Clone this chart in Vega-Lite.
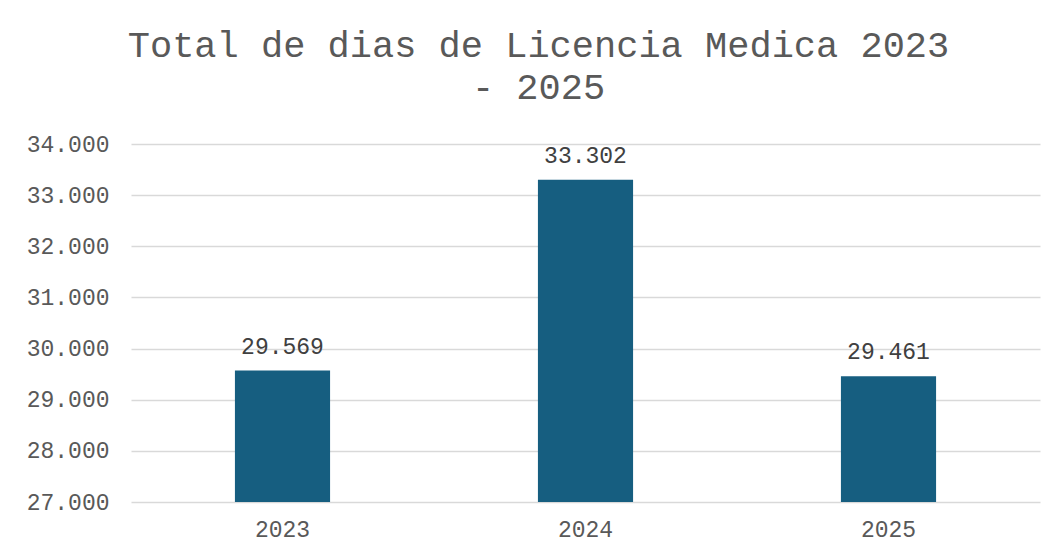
{
  "$schema": "https://vega.github.io/schema/vega-lite/v6.json",
  "autosize": {"type": "none"},
  "padding": {"left": 131, "top": 144, "right": 17, "bottom": 54},
  "width": 909,
  "height": 358,
  "background": "white",
  "config": {
    "locale": {"number": {"decimal": ",", "thousands": ".", "grouping": [3], "currency": ["$", ""]}},
    "view": {"stroke": null},
    "font": "Liberation Mono"
  },
  "title": {
    "text": ["Total de dias de Licencia Medica 2023", "- 2025"],
    "font": "Liberation Mono",
    "fontSize": 37,
    "fontWeight": "normal",
    "color": "#595959",
    "lineHeight": 42,
    "anchor": "middle",
    "dx": -47,
    "baseline": "alphabetic",
    "offset": -3
  },
  "data": {
    "values": [
      {"year": "2023", "dias": 29569},
      {"year": "2024", "dias": 33302},
      {"year": "2025", "dias": 29461}
    ]
  },
  "encoding": {
    "x": {
      "field": "year",
      "type": "nominal",
      "sort": null,
      "scale": {"paddingInner": 0.686, "paddingOuter": 0.343},
      "axis": {
        "title": null,
        "labelAngle": 0,
        "labelFont": "Liberation Mono",
        "labelFontSize": 23,
        "labelColor": "#595959",
        "labelPadding": 16,
        "ticks": false,
        "domain": false
      }
    },
    "y": {
      "field": "dias",
      "type": "quantitative",
      "scale": {"domain": [27000, 34000], "nice": false, "zero": false},
      "axis": {
        "title": null,
        "values": [27000, 28000, 29000, 30000, 31000, 32000, 33000, 34000],
        "format": ",.0f",
        "labelFont": "Liberation Mono",
        "labelFontSize": 23,
        "labelColor": "#595959",
        "labelPadding": 22,
        "ticks": false,
        "domain": false,
        "gridColor": "#D9D9D9",
        "gridWidth": 1.5
      }
    }
  },
  "layer": [
    {"mark": {"type": "bar", "color": "#165E80", "clip": true}},
    {
      "mark": {"type": "text", "baseline": "alphabetic", "dy": -17, "font": "Liberation Mono", "fontSize": 23, "color": "#404040"},
      "encoding": {"text": {"field": "dias", "type": "quantitative", "format": ",.0f"}}
    }
  ]
}
